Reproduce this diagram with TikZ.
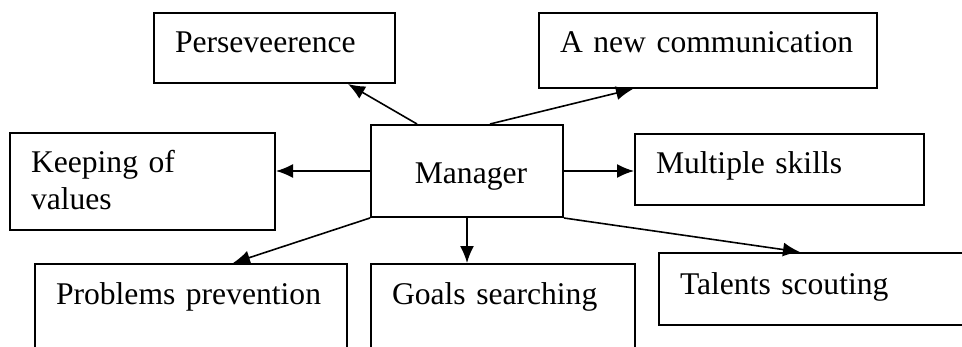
\documentclass[tikz,border=0pt]{standalone}
\usepackage{fontspec}
\setmainfont{Liberation Serif}
\usetikzlibrary{arrows.meta}
\begin{document}
\begin{tikzpicture}[x=0.5pt, y=-0.5pt,
    box/.style={draw, line width=1pt, rectangle, anchor=north west, inner xsep=10.5pt,
      inner ysep=0pt, align=left, text height=20pt, font=\fontsize{15.8}{18.3}\selectfont},
    link/.style={->, line width=0.8pt}]
    \tikzset{>={Latex[length=8.5pt,width=7pt]}}
    \useasboundingbox (0,0) rectangle (962,347);
    \clip (0,0) rectangle (962,347);
    \node[box, text width=99.5pt, text depth=15pt] (pers) at (153,12) {Perseveerence};
    \node[box, text width=148pt, text depth=17.5pt] (anew) at (538,12) {A new communication};
    \node[box, align=center, text width=79pt, inner xsep=8.5pt, text height=29.5pt, text depth=16.5pt] (mgr) at (370,124) {\hspace*{4pt}Manager};
    \node[box, text width=111.5pt, text depth=28.5pt] (keep) at (9,132) {Keeping of\\values};
    \node[box, text width=123.5pt, text depth=15.5pt] (multi) at (634,133) {Multiple skills};
    \node[box, text width=135pt, text depth=60pt] (prob) at (34,263) {Problems prevention};
    \node[box, text width=111pt, text depth=60pt] (goals) at (370,263) {Goals searching};
    \node[box, text width=149pt, text height=20.5pt, text depth=15.5pt] (talent) at (658,252) {Talents scouting};
    \draw[link] ([xshift=23.5pt]mgr.north west) -- ([xshift=97.5pt]pers.south west);
    \draw[link] ([xshift=60pt]mgr.north west) -- ([xshift=47.5pt]anew.south west);
    \draw[link] (mgr.west) -- (mgr.west -| keep.east);
    \draw[link] (mgr.east) -- (mgr.east -| multi.west);
    \draw[link] (mgr.south west) -- ([xshift=99.5pt]prob.north west);
    \draw[link] (mgr.south) -- (mgr.south |- goals.north);
    \draw[link] (mgr.south east) -- ([xshift=71pt]talent.north west);
\end{tikzpicture}
\end{document}
